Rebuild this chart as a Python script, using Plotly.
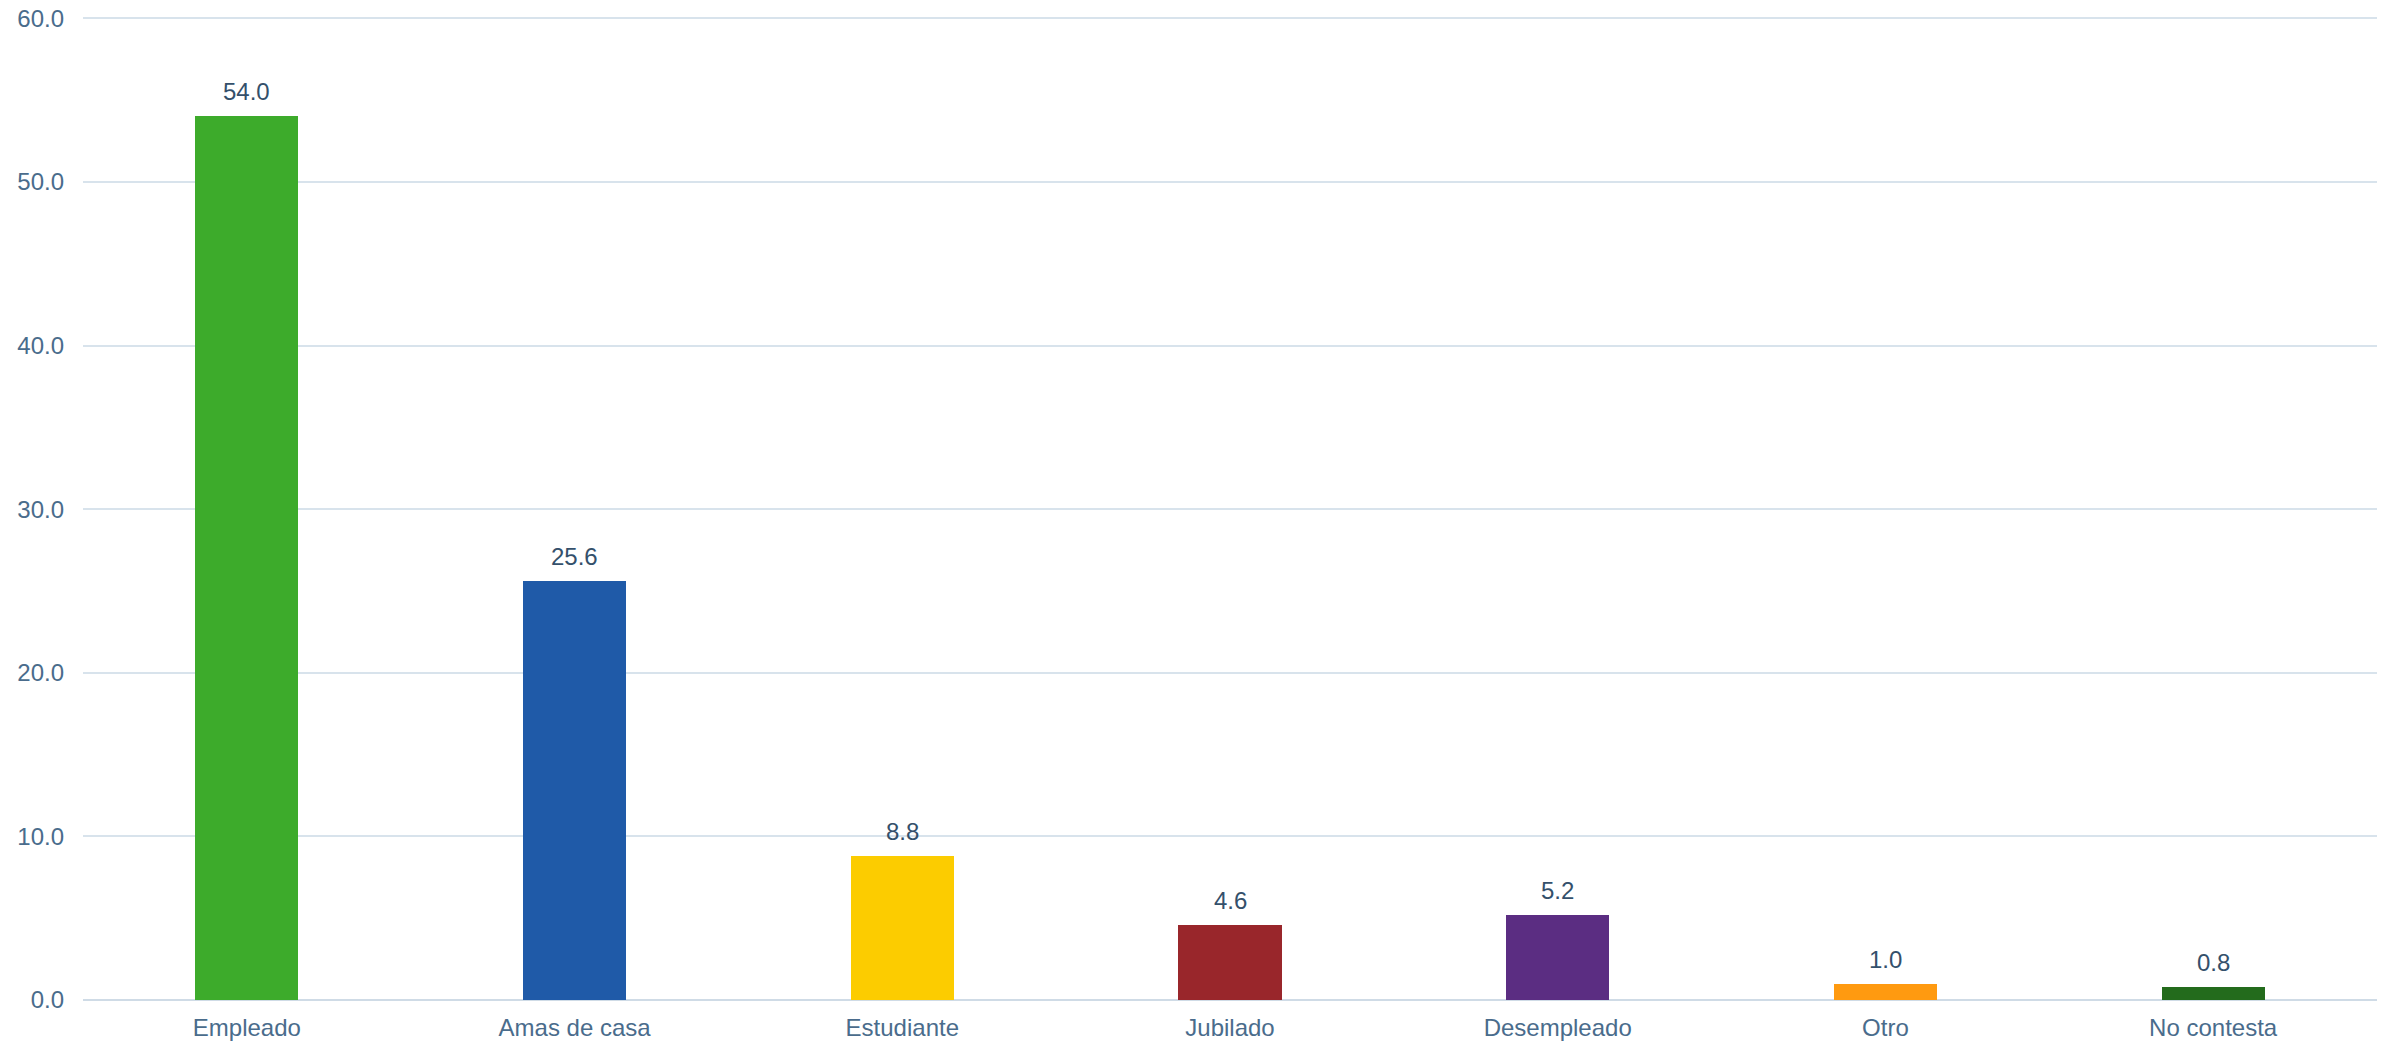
import plotly.graph_objects as go

# Datos
categorias = ["Empleado", "Amas de casa", "Estudiante", "Jubilado",
              "Desempleado", "Otro", "No contesta"]
porcentajes = [54.0, 25.6, 8.8, 4.6, 5.2, 1.0, 0.8]
colores = ["#3dab2b", "#1f5aa8", "#fccc00", "#99262b",
           "#5b2d82", "#ff9a10", "#236b1c"]
ticks_y = [0, 10, 20, 30, 40, 50, 60]

FONT = "Liberation Sans, Arial, sans-serif"

fig = go.Figure()

fig.add_trace(
    go.Bar(x=categorias, y=porcentajes, marker_color=colores,
           marker_line_width=0, width=0.315, hoverinfo="x+y")
)

# Etiquetas de valor encima de las barras
for cat, val in zip(categorias, porcentajes):
    fig.add_annotation(
        x=cat, y=val, text=f"{val:.1f}", showarrow=False,
        yanchor="bottom", yshift=9,
        font=dict(family=FONT, size=24, color="#34506b"),
    )

fig.update_layout(
    width=2394, height=1043,
    margin=dict(l=83, r=17, t=15, b=43),
    plot_bgcolor="white", paper_bgcolor="white",
    showlegend=False,
    bargap=0,
)
# rango un poco por encima de 60 para que se dibuje la línea de 60.0
fig.update_yaxes(
    range=[0, 60.2], tickvals=ticks_y, tickformat=".1f",
    gridcolor="#d8e3ec", gridwidth=1.5,
    zeroline=True, zerolinecolor="#cfdbe6", zerolinewidth=2,
    tickfont=dict(family=FONT, size=24, color="#4a6c8c"),
    ticklabelstandoff=18, automargin=False,
)
fig.update_xaxes(
    showgrid=False, showline=False,
    tickfont=dict(family=FONT, size=24, color="#4a6c8c"),
    ticklabelstandoff=11, automargin=False,
)

# sin margen del body para que la figura ocupe la ventana exacta
fig.write_html("out.html", config={"displayModeBar": False},
               post_script="document.body.style.margin='0';")
